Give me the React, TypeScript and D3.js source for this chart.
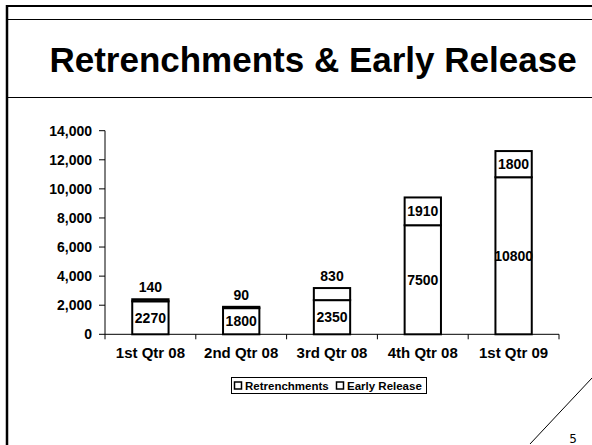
import React from "react";
import * as d3 from "d3";

const categories = ["1st Qtr 08", "2nd Qtr 08", "3rd Qtr 08", "4th Qtr 08", "1st Qtr 09"];
const retrenchments = [2270, 1800, 2350, 7500, 10800];
const earlyRelease = [140, 90, 830, 1910, 1800];
const yTicks = [0, 2000, 4000, 6000, 8000, 10000, 12000, 14000];
const seriesNames = ["Retrenchments", "Early Release"];

const W = 592;
const H = 445;
const FONT = "'Liberation Sans', Arial, Helvetica, sans-serif";

export default function App() {
  const x = d3.scaleBand<string>().domain(categories).range([105, 559]).paddingInner(0.6).paddingOuter(0.3);
  const y = d3.scaleLinear().domain([0, 14000]).range([334.3, 130.7]);
  const fmt = d3.format(",");
  const bw = x.bandwidth();
  const step = x.step();
  const boundaries = d3.range(categories.length + 1).map((i) => 105 + i * step);

  return (
    <svg width={W} height={H} style={{ position: "absolute", left: 0, top: 0, background: "#fff" }} fontFamily={FONT}>
      <rect x={0} y={0} width={W} height={H} fill="#fff" />
      {/* frame */}
      <line x1={6} x2={W} y1={6} y2={6} stroke="#000" strokeWidth={2} />
      <line x1={7} x2={7} y1={5} y2={H} stroke="#000" strokeWidth={2.5} />
      <line x1={7} x2={W} y1={19.5} y2={19.5} stroke="#000" strokeWidth={1} />
      <line x1={7} x2={W} y1={97.5} y2={97.5} stroke="#000" strokeWidth={1} />

      <text x={313} y={72} textAnchor="middle" fontSize={35} fontWeight="bold" fill="#000">
        Retrenchments &amp; Early Release
      </text>

      {/* y axis */}
      <line x1={105} x2={105} y1={y(14000)} y2={y(0)} stroke="#000" strokeWidth={1} />
      {yTicks.map((t) => (
        <g key={t}>
          <line x1={99} x2={105} y1={y(t)} y2={y(t)} stroke="#000" strokeWidth={1} />
          <text x={92} y={y(t)} dy="0.36em" textAnchor="end" fontSize={14} fontWeight="bold">
            {fmt(t)}
          </text>
        </g>
      ))}

      {/* x axis */}
      <line x1={105} x2={559} y1={y(0)} y2={y(0)} stroke="#000" strokeWidth={1} />
      {boundaries.map((b, i) => (
        <line key={i} x1={b} x2={b} y1={y(0)} y2={y(0) + 5} stroke="#000" strokeWidth={1} />
      ))}
      {categories.map((c) => (
        <text key={c} x={(x(c) as number) + bw / 2} y={358} textAnchor="middle" fontSize={15} fontWeight="bold">
          {c}
        </text>
      ))}

      {/* bars */}
      {categories.map((c, i) => {
        const bx = x(c) as number;
        const r = retrenchments[i];
        const e = earlyRelease[i];
        const y0 = y(0);
        const y1 = y(r);
        const y2 = y(r + e);
        const topH = y1 - y2;
        return (
          <g key={c}>
            <rect x={bx} y={y1} width={bw} height={y0 - y1} fill="#fff" stroke="#000" strokeWidth={2} />
            <rect x={bx} y={y2} width={bw} height={topH} fill="#fff" stroke="#000" strokeWidth={2} />
            <text x={bx + bw / 2} y={(y0 + y1) / 2} dy="0.36em" textAnchor="middle" fontSize={14} fontWeight="bold">
              {r}
            </text>
            <text
              x={bx + bw / 2}
              y={topH < 20 ? y2 - 12 : (y1 + y2) / 2}
              dy="0.36em"
              textAnchor="middle"
              fontSize={14}
              fontWeight="bold"
            >
              {e}
            </text>
          </g>
        );
      })}

      {/* legend */}
      <rect x={231.5} y={377.5} width={195} height={16} fill="#fff" stroke="#000" strokeWidth={1} />
      <rect x={234.5} y={382} width={7} height={7} fill="#fff" stroke="#000" strokeWidth={1.5} />
      <text x={245} y={390} fontSize={11.5} fontWeight="bold">{seriesNames[0]}</text>
      <rect x={336.5} y={382} width={7} height={7} fill="#fff" stroke="#000" strokeWidth={1.5} />
      <text x={347} y={390} fontSize={11.5} fontWeight="bold">{seriesNames[1]}</text>

      {/* slide corner */}
      <line x1={530} y1={444} x2={592} y2={378} stroke="#000" strokeWidth={1} />
      <text x={573} y={443} textAnchor="middle" fontSize={12} fontFamily="'DejaVu Sans', sans-serif">5</text>
    </svg>
  );
}
